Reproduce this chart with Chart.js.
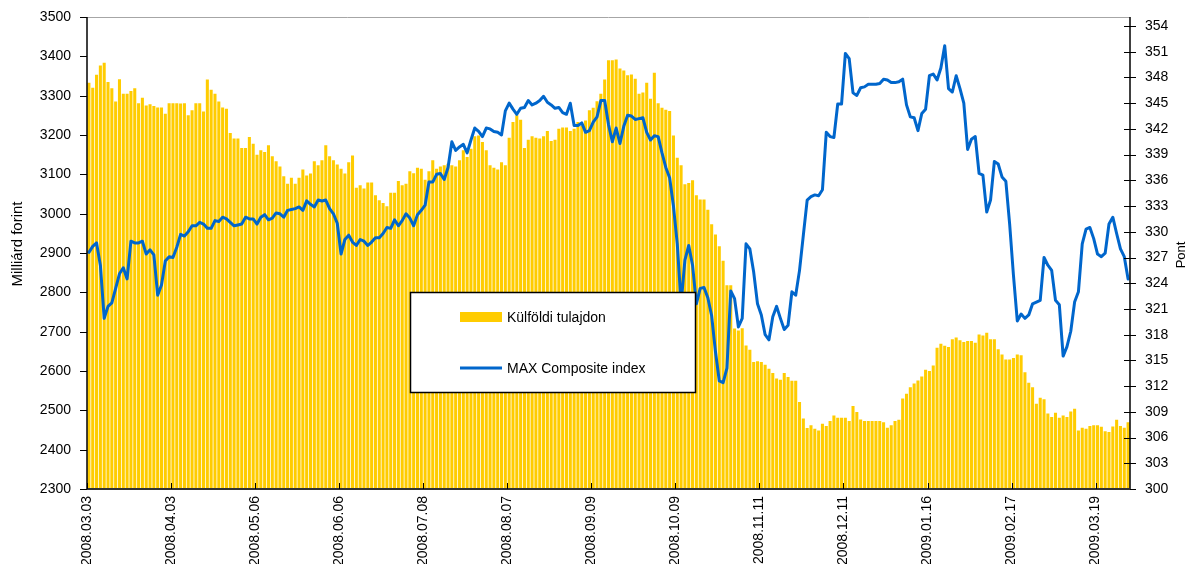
<!DOCTYPE html>
<html>
<head>
<meta charset="utf-8">
<script src="https://cdn.jsdelivr.net/npm/chart.js@4/dist/chart.umd.min.js"></script>
<style>
html,body{margin:0;padding:0;background:#fff;}
#wrap{width:1187px;height:564px;position:relative;}
</style>
</head>
<body>
<div id="wrap"><canvas id="c" width="1187" height="564"></canvas></div>
<script>
// ---- tick labels ----
const xTickLabels = ['2008.03.03','2008.04.03','2008.05.06','2008.06.06','2008.07.08','2008.08.07','2008.09.09','2008.10.09','2008.11.11','2008.12.11','2009.01.16','2009.02.17','2009.03.19'];
const xTickIndex = [0,22,44,66,88,110,132,154,176,198,220,242,264];
const leftTicks = [2300,2400,2500,2600,2700,2800,2900,3000,3100,3200,3300,3400,3500];
const rightTicks = [300,303,306,309,312,315,318,321,324,327,330,333,336,339,342,345,348,351,354];

// ---- series: Külföldi tulajdon (Milliárd forint), daily 2008.03.03 – 2009.03.31 ----
const foreignOwnership = [
3333,3320,3353,3377,3384,3335,3319,3285,3342,3305,3305,3312,3319,3281,3295,3275,3278,3274,3270,3270,3254,3281,3281,3281,3280,3281,3250,3263,3281,3281,3260,3341,3315,3305,
3285,3270,3267,3205,3191,3191,3167,3167,3195,3178,3150,3161,3157,3174,3146,3133,3120,3095,3076,3091,3076,3091,3112,3097,3102,3133,3123,3136,3174,3146,3136,3125,3114,3102,3131,
3148,3066,3072,3064,3079,3079,3047,3034,3027,3019,3053,3053,3083,3072,3076,3108,3103,3117,3114,3086,3108,3136,3114,3120,3123,3127,3123,3120,3136,3161,3144,3165,3197,
3199,3182,3161,3123,3117,3112,3131,3123,3193,3233,3250,3239,3167,3188,3197,3193,3191,3197,3210,3185,3188,3216,3219,3219,3210,3216,3233,3223,3237,3263,3269,3286,3305,3341,3390,
3390,3392,3369,3364,3352,3354,3343,3305,3308,3333,3292,3358,3281,3269,3264,3261,3199,3142,3123,3075,3078,3085,3047,3036,3036,3010,2973,2947,2917,2880,2818,2818,2708,2703,
2709,2665,2654,2623,2625,2623,2616,2606,2595,2581,2578,2595,2585,2575,2575,2521,2479,2455,2462,2453,2449,2466,2460,2473,2487,2481,2481,2481,2473,2511,2496,2477,2473,2473,
2473,2473,2473,2470,2456,2462,2473,2476,2530,2542,2559,2568,2576,2586,2603,2600,2614,2659,2669,2664,2661,2681,2685,2678,2674,2676,2676,2672,2693,2690,2697,2681,2681,2655,
2642,2629,2629,2633,2642,2640,2597,2570,2559,2517,2532,2528,2492,2483,2494,2481,2487,2483,2497,2504,2449,2456,2453,2460,2462,2462,2458,2447,2445,2459,2476,2460,2456,2470
];

// ---- series: MAX Composite index (Pont) ----
const maxComposite = [
327.6,328.3,328.7,326.1,319.9,321.3,321.7,323.4,325.1,325.8,324.5,328.9,328.7,328.7,328.9,327.4,327.9,327.3,322.6,323.8,326.6,327.1,327.0,328.2,329.7,329.5,330.0,330.7,330.7,331.1,330.9,330.4,330.4,331.3,
331.2,331.7,331.5,331.1,330.7,330.8,330.9,331.7,331.5,331.5,330.9,331.7,332.0,331.4,331.6,332.2,332.1,331.7,332.5,332.6,332.7,332.9,332.5,333.6,333.2,332.9,333.7,333.6,333.7,332.7,332.1,331.0,327.4,329.1,329.6,
328.8,328.4,329.1,328.9,328.4,328.8,329.3,329.3,329.8,330.5,330.4,331.4,330.7,331.3,332.1,331.6,330.7,332.0,332.5,333.1,335.8,335.8,336.7,336.8,336.1,337.5,340.5,339.5,339.9,340.2,339.2,340.7,342.1,
341.7,341.1,342.1,342.0,341.7,341.6,341.3,344.1,345.0,344.3,343.7,344.4,344.5,345.3,344.8,345.0,345.3,345.8,345.1,344.8,344.4,344.5,343.9,343.7,345.0,342.4,342.4,342.7,341.6,341.8,342.8,343.4,345.3,345.3,342.5,
340.5,342.1,340.3,342.3,343.6,343.5,343.1,343.2,343.3,341.6,340.7,341.2,341.1,339.2,337.5,336.3,333.0,328.6,321.6,326.7,328.4,326.1,321.6,323.4,323.5,322.3,320.2,316.0,312.6,312.4,314.1,323.1,322.2,318.9,
319.9,328.6,328.0,325.3,321.6,320.3,318.0,317.4,320.1,321.3,319.9,318.6,319.1,323.0,322.6,325.5,329.6,333.7,334.1,334.3,334.2,334.9,341.6,341.1,341.0,344.9,344.9,350.8,350.2,346.2,345.9,346.8,346.9,347.2,
347.2,347.2,347.3,347.8,347.7,347.4,347.4,347.5,347.8,344.8,343.4,343.3,341.8,343.8,344.3,348.2,348.4,347.7,349.1,351.7,346.7,346.3,348.2,346.7,345.0,339.6,340.8,341.1,336.8,336.6,332.3,333.7,338.2,337.9,
336.4,335.9,330.9,324.9,319.6,320.4,319.9,320.3,321.6,321.8,322.0,327.0,326.1,325.5,322.0,321.5,315.5,316.6,318.4,321.8,323.0,328.6,330.3,330.5,329.2,327.4,327.1,327.5,330.9,331.7,329.8,328.0,327.1,324.5
];

const FONT = "'Liberation Sans', Arial, Helvetica, sans-serif";
const BAR_COLOR = '#FFCC00';
const LINE_COLOR = '#0066CC';

const barData = foreignOwnership.map((v, i) => ({x: i + 0.5, y: v}));
const lineData = maxComposite.map((v, i) => ({x: i + 0.5, y: v}));

const decor = {
  id: 'decor',
  afterDraw(chart) {
    const {ctx, chartArea: a, scales: {x, y, y1}} = chart;
    const L = Math.round(a.left), R = Math.round(a.right), T = Math.round(a.top), B = Math.round(a.bottom);
    const seg = (x1, ya, x2, yb) => { ctx.beginPath(); ctx.moveTo(x1, ya); ctx.lineTo(x2, yb); ctx.stroke(); };
    ctx.save();
    ctx.lineWidth = 1; ctx.strokeStyle = '#a6a6a6';
    seg(L, T + 0.5, R, T + 0.5);
    ctx.strokeStyle = '#000'; ctx.lineWidth = 1.5;
    seg(L, T, L, B);
    ctx.lineWidth = 1;
    y.ticks.forEach(t => { const p = Math.round(y.getPixelForValue(t.value)) + 0.5; seg(L - 7, p, L, p); });
    ctx.lineWidth = 1.5;
    seg(R, T, R, B);
    ctx.lineWidth = 1;
    y1.ticks.forEach(t => { const p = Math.round(y1.getPixelForValue(t.value)) + 0.5; seg(R - 6, p, R + 6, p); });
    ctx.strokeStyle = '#333'; ctx.lineWidth = 2;
    seg(L, B, R, B);
    ctx.lineWidth = 1; ctx.strokeStyle = '#000';
    x.ticks.forEach(t => { const p = Math.round(x.getPixelForValue(t.value)) + 0.5; seg(p, B - 6, p, B); });
    // axis titles
    ctx.fillStyle = '#000'; ctx.textAlign = 'center'; ctx.textBaseline = 'middle';
    ctx.font = '15px ' + FONT;
    ctx.save(); ctx.translate(18, 244); ctx.rotate(-Math.PI / 2); ctx.fillText('Milliárd forint', 0, 0); ctx.restore();
    ctx.font = '13px ' + FONT;
    ctx.save(); ctx.translate(1181, 255); ctx.rotate(-Math.PI / 2); ctx.fillText('Pont', 0, 0); ctx.restore();
    // legend box
    const ds = chart.data.datasets;
    ctx.fillStyle = '#fff'; ctx.fillRect(410, 292, 286, 101);
    ctx.strokeStyle = '#000'; ctx.lineWidth = 1.5; ctx.strokeRect(410.5, 292.5, 285, 100);
    ctx.fillStyle = BAR_COLOR; ctx.fillRect(460, 312, 42, 10);
    ctx.strokeStyle = LINE_COLOR; ctx.lineWidth = 3; seg(460, 368, 502, 368);
    ctx.fillStyle = '#000'; ctx.font = '14px ' + FONT; ctx.textAlign = 'left'; ctx.textBaseline = 'middle';
    ctx.fillText(ds[1].label, 507, 318);
    ctx.fillText(ds[0].label, 507, 369);
    ctx.restore();
  }
};

const hiddenGrid = len => ({display: true, drawOnChartArea: false, drawTicks: true, tickLength: len, color: 'rgba(0,0,0,0)'});

new Chart(document.getElementById('c').getContext('2d'), {
  type: 'bar',
  data: {
    datasets: [
      {type: 'line', label: 'MAX Composite index', data: lineData, yAxisID: 'y1', xAxisID: 'x',
       borderColor: LINE_COLOR, backgroundColor: LINE_COLOR, borderWidth: 3, pointRadius: 0, tension: 0,
       borderJoinStyle: 'round', borderCapStyle: 'round', order: 0},
      {type: 'bar', label: 'Külföldi tulajdon', data: barData, yAxisID: 'y', xAxisID: 'x',
       backgroundColor: BAR_COLOR, borderWidth: 0, barPercentage: 0.8, categoryPercentage: 1.0, order: 1}
    ]
  },
  options: {
    responsive: false, animation: false, devicePixelRatio: 1,
    layout: {padding: {top: 17, left: 0, right: 0, bottom: 0}},
    plugins: {legend: {display: false}, tooltip: {enabled: false}},
    scales: {
      x: {
        type: 'linear', position: 'bottom', min: 0, max: 273, offset: false,
        grid: {display: false, drawTicks: false}, border: {display: false},
        afterBuildTicks: s => { s.ticks = xTickIndex.map(v => ({value: v})); },
        afterFit: s => { s.height = 75; },
        ticks: {stepSize: 22, autoSkip: false, minRotation: 90, maxRotation: 90, padding: 7,
                color: '#000', font: {family: FONT, size: 14},
                callback: (v, i) => xTickLabels[i]}
      },
      y: {
        type: 'linear', position: 'left', min: 2300, max: 3500, beginAtZero: false,
        grid: hiddenGrid(16), border: {display: false},
        afterBuildTicks: s => { s.ticks = leftTicks.map(v => ({value: v})); },
        afterFit: s => { s.width = 87; },
        ticks: {stepSize: 100, padding: 0, color: '#000', font: {family: FONT, size: 14},
                callback: v => String(v)}
      },
      y1: {
        type: 'linear', position: 'right', min: 300, max: 355.05, beginAtZero: false,
        grid: hiddenGrid(15), border: {display: false},
        afterBuildTicks: s => { s.ticks = rightTicks.map(v => ({value: v})); },
        afterFit: s => { s.width = 57; },
        ticks: {stepSize: 3, padding: 0, color: '#000', font: {family: FONT, size: 14},
                callback: v => String(v)}
      }
    }
  },
  plugins: [decor]
});
</script>
</body>
</html>
